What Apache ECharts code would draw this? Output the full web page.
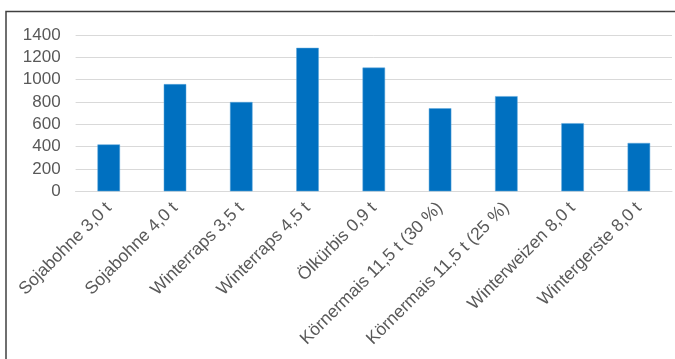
<!DOCTYPE html>
<html><head><meta charset="utf-8">
<script src="https://cdn.jsdelivr.net/npm/echarts@6/dist/echarts.min.js"></script>
<style>html,body{margin:0;padding:0;background:#fff}#c{width:675px;height:359px}</style>
</head><body><div id="c"></div>
<script>
const categories = ["Sojabohne 3,0 t","Sojabohne 4,0 t","Winterraps 3,5 t","Winterraps 4,5 t","Ölkürbis 0,9 t","Körnermais 11,5 t (30 %)","Körnermais 11,5 t (25 %)","Winterweizen 8,0 t","Wintergerste 8,0 t"];
const values = [420, 960, 800, 1285, 1108, 744, 852, 610, 433];
const yTicks = [0, 200, 400, 600, 800, 1000, 1200, 1400];

const chart = echarts.init(document.getElementById('c'), null, {renderer:'canvas'});
chart.setOption({
  animation:false,
  graphic:[{type:'polyline', shape:{points:[[6,359],[6,11.5],[680,11.5]]}, style:{stroke:'#404040', lineWidth:1.5, fill:null}, silent:true}],
  grid:{left:75.6, right:3, top:35, bottom:167.7, containLabel:false},
  xAxis:{type:'category', data:categories,
    axisLine:{lineStyle:{color:'#d9d9d9', width:1}}, axisTick:{show:false},
    axisLabel:{rotate:45, color:'#595959', fontFamily:'Liberation Sans, Arial, sans-serif', fontSize:17.5, margin:14, interval:0}},
  yAxis:{type:'value', min:yTicks[0], max:yTicks[yTicks.length-1], interval:200,
    axisLine:{show:false}, axisTick:{show:false},
    splitLine:{lineStyle:{color:'#d9d9d9', width:1}},
    axisLabel:{color:'#595959', fontFamily:'Liberation Sans, Arial, sans-serif', fontSize:17, margin:15,
      formatter: v => String(v)}},
  series:[{type:'bar', data:values, barWidth:'34%', itemStyle:{color:'#0070C0', borderColor:'#5fa8dc', borderWidth:0.5}}]
});
</script></body></html>
